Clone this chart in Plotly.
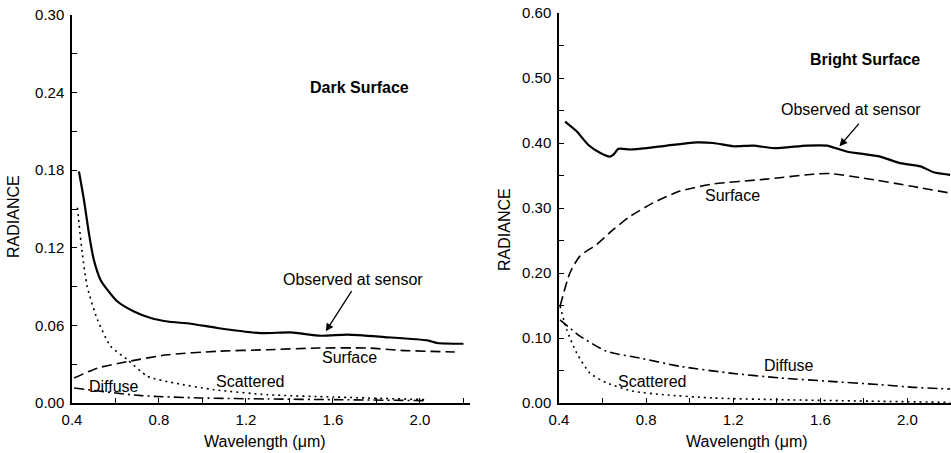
import plotly.graph_objects as go
from plotly.subplots import make_subplots

# ---- Dark surface data ----
dark_obs_x = [0.432, 0.455, 0.478, 0.50, 0.532, 0.563, 0.609, 0.685, 0.762, 0.839, 0.946, 1.069, 1.268, 1.406, 1.544, 1.667, 1.836, 2.035, 2.08, 2.20]
dark_obs_y = [0.179, 0.157, 0.131, 0.111, 0.095, 0.0875, 0.0785, 0.0708, 0.0657, 0.063, 0.0613, 0.058, 0.054, 0.0546, 0.052, 0.0528, 0.051, 0.0484, 0.0464, 0.0458]
dark_sur_x = [0.41, 0.517, 0.655, 0.839, 1.069, 1.30, 1.53, 1.76, 1.91, 2.16]
dark_sur_y = [0.0193, 0.027, 0.032, 0.0373, 0.040, 0.0412, 0.0425, 0.0425, 0.0407, 0.0394]
dark_sca_x = [0.425, 0.447, 0.47, 0.517, 0.578, 0.655, 0.747, 0.869, 1.053, 1.30, 1.606, 2.03]
dark_sca_y = [0.151, 0.116, 0.090, 0.0644, 0.0438, 0.0335, 0.0206, 0.0155, 0.0103, 0.0064, 0.0046, 0.0026]
dark_dif_x = [0.41, 0.716, 0.99, 1.30, 1.606, 2.03]
dark_dif_y = [0.0116, 0.0057, 0.0039, 0.0031, 0.0026, 0.0018]

# ---- Bright surface data ----
br_obs_x = [0.428, 0.481, 0.535, 0.588, 0.634, 0.65, 0.673, 0.726, 0.803, 0.895, 1.032, 1.109, 1.20, 1.293, 1.385, 1.538, 1.63, 1.72, 1.875, 1.967, 2.06, 2.12, 2.196]
br_obs_y = [0.433, 0.418, 0.397, 0.385, 0.379, 0.382, 0.391, 0.390, 0.392, 0.396, 0.401, 0.400, 0.395, 0.396, 0.392, 0.396, 0.396, 0.387, 0.379, 0.369, 0.364, 0.355, 0.351]
br_sur_x = [0.405, 0.45, 0.496, 0.573, 0.65, 0.726, 0.833, 0.956, 1.109, 1.339, 1.568, 1.645, 1.798, 2.028, 2.196]
br_sur_y = [0.149, 0.20, 0.226, 0.244, 0.267, 0.287, 0.308, 0.326, 0.337, 0.344, 0.352, 0.353, 0.346, 0.333, 0.323]
br_dif_x = [0.405, 0.496, 0.619, 0.772, 0.956, 1.186, 1.415, 1.645, 1.875, 2.028, 2.196]
br_dif_y = [0.128, 0.103, 0.0795, 0.069, 0.0564, 0.046, 0.0385, 0.0333, 0.0282, 0.0241, 0.0215]
br_sca_x = [0.405, 0.435, 0.481, 0.542, 0.619, 0.742, 0.879, 1.109, 1.415, 1.875, 2.196]
br_sca_y = [0.149, 0.113, 0.077, 0.046, 0.031, 0.018, 0.0128, 0.0077, 0.0051, 0.0026, 0.001]

FONT = "Liberation Sans, Arial, sans-serif"
W, H = 951, 453
FS = 15   # tick labels
AS = 16   # annotations / titles

fig = make_subplots(rows=1, cols=2)

styles = {
    "obs": dict(color="black", width=2.2, dash="solid"),
    "sur": dict(color="black", width=1.6, dash="10px,5px"),
    "sca": dict(color="black", width=1.6, dash="2px,4px"),
    "dif": dict(color="black", width=1.6, dash="10px,4px,2px,4px"),
}

def add(x, y, key, col):
    fig.add_trace(go.Scatter(x=x, y=y, mode="lines", line=dict(shape="spline", smoothing=0.6, **styles[key]),
                             showlegend=False, hoverinfo="skip"), row=1, col=col)

add(dark_obs_x, dark_obs_y, "obs", 1)
add(dark_sur_x, dark_sur_y, "sur", 1)
add(dark_sca_x, dark_sca_y, "sca", 1)
add(dark_dif_x, dark_dif_y, "dif", 1)
add(br_obs_x, br_obs_y, "obs", 2)
add(br_sur_x, br_sur_y, "sur", 2)
add(br_sca_x, br_sca_y, "sca", 2)
add(br_dif_x, br_dif_y, "dif", 2)

axis_common = dict(showline=True, linecolor="black", linewidth=1.5, showgrid=False, zeroline=False,
                   ticks="inside", ticklen=5, tickwidth=1.3, tickcolor="black", automargin=False,
                   tickfont=dict(family=FONT, size=FS, color="black"))

fig.update_xaxes(axis_common, ticklabelstandoff=2)
fig.update_yaxes(axis_common, ticklabelstandoff=3)

fig.update_layout(
    width=W, height=H, margin=dict(l=0, r=0, t=0, b=0, autoexpand=False),
    paper_bgcolor="white", plot_bgcolor="white",
    xaxis=dict(domain=[72 / W, 470 / W], range=[0.4, 2.23], tick0=0.4, dtick=0.4, tickformat=".1f",
               minor=dict(dtick=0.2, ticks="inside", ticklen=5, tickcolor="black")),
    yaxis=dict(domain=[(H - 403) / H, (H - 15) / H], range=[0, 0.30], tick0=0, dtick=0.06, tickformat=".2f",
               minor=dict(dtick=0.03, ticks="inside", ticklen=5, tickcolor="black")),
    xaxis2=dict(domain=[559 / W, 1.0], range=[0.4, 2.2], tick0=0.4, dtick=0.4, tickformat=".1f",
                minor=dict(dtick=0.2, ticks="inside", ticklen=5, tickcolor="black")),
    yaxis2=dict(domain=[(H - 403) / H, (H - 13) / H], range=[0, 0.60], tick0=0, dtick=0.10, tickformat=".2f",
                minor=dict(dtick=0.05, ticks="inside", ticklen=5, tickcolor="black")),
)

tf = dict(family=FONT, size=AS, color="black")
bf = dict(family=FONT, size=AS, color="black", weight="bold")

def pa(x, y, text, **kw):
    return dict(x=x / W, y=(H - y) / H, xref="paper", yref="paper", text=text, font=tf,
                showarrow=False, xanchor="center", yanchor="middle", **kw)

ann = [
    # Dark panel
    dict(x=1.72, y=0.244, xref="x", yref="y", text="Dark Surface", font=bf, showarrow=False),
    dict(x=1.69, y=0.0958, xref="x", yref="y", text="Observed at sensor", font=tf, showarrow=False),
    dict(x=1.567, y=0.0554, xref="x", yref="y", ax=1.69, ay=0.0876, axref="x", ayref="y", text="",
         showarrow=True, arrowhead=2, arrowsize=1.2, arrowwidth=1.3, arrowcolor="black"),
    dict(x=1.675, y=0.0348, xref="x", yref="y", text="Surface", font=tf, showarrow=False),
    dict(x=1.219, y=0.0167, xref="x", yref="y", text="Scattered", font=tf, showarrow=False),
    dict(x=0.593, y=0.0124, xref="x", yref="y", text="Diffuse", font=tf, showarrow=False),
    # Bright panel
    dict(x=1.806, y=0.529, xref="x2", yref="y2", text="Bright Surface", font=bf, showarrow=False),
    dict(x=1.74, y=0.451, xref="x2", yref="y2", text="Observed at sensor", font=tf, showarrow=False),
    dict(x=1.688, y=0.395, xref="x2", yref="y2", ax=1.783, ay=0.432, axref="x2", ayref="y2", text="",
         showarrow=True, arrowhead=2, arrowsize=1.2, arrowwidth=1.3, arrowcolor="black"),
    dict(x=1.198, y=0.32, xref="x2", yref="y2", text="Surface", font=tf, showarrow=False),
    dict(x=1.458, y=0.058, xref="x2", yref="y2", text="Diffuse", font=tf, showarrow=False),
    dict(x=0.826, y=0.033, xref="x2", yref="y2", text="Scattered", font=tf, showarrow=False),
    # Axis titles
    pa(13, 217, "RADIANCE", textangle=-90),
    pa(505, 230, "RADIANCE", textangle=-90),
    pa(265, 441, "Wavelength (μm)"),
    pa(747, 441, "Wavelength (μm)"),
]
fig.update_layout(annotations=ann)

fig.write_html("out.html", config={"displayModeBar": False},
               post_script="document.body.style.margin='0';document.body.style.overflow='hidden';")
